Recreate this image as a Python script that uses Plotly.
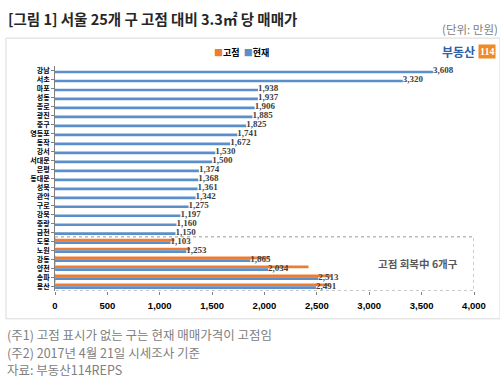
import plotly.graph_objects as go

districts = ["강남", "서초", "마포", "성동", "종로", "광진", "중구", "영등포", "동작", "강서",
             "서대문", "은평", "동대문", "성북", "관악", "구로", "강북", "중랑", "금천",
             "도봉", "노원", "강동", "양천", "송파", "용산"]
current = [3608, 3320, 1938, 1937, 1906, 1885, 1825, 1741, 1672, 1530,
           1500, 1374, 1368, 1361, 1342, 1275, 1197, 1160, 1150,
           1103, 1253, 1865, 2034, 2513, 2491]
peak = [None] * 19 + [1140, 1290, 2050, 2420, 2640, 2620]
x_ticks = [0, 500, 1000, 1500, 2000, 2500, 3000, 3500, 4000]
x_tick_labels = ["0", "500", "1,000", "1,500", "2,000", "2,500", "3,000", "3,500", "4,000"]

# layout is laid out in reference-pixel units (500 x 378)
RW, RH = 500, 378
FIG_W, FIG_H = 515, 380
def px(x):
    return x / RW
def py(y):
    return 1 - y / RH

KR = "Noto Sans CJK KR"
ORANGE = "#ED7D31"
BLUE = "#5B8FCB"

fig = go.Figure()
fig.add_trace(go.Bar(
    y=districts, x=peak, name="고점", orientation="h",
    marker=dict(color=ORANGE, line=dict(width=0)),
    hoverinfo="skip",
))
fig.add_trace(go.Bar(
    y=districts, x=current, name="현재", orientation="h",
    marker=dict(color=BLUE, line=dict(width=0)),
    hoverinfo="skip",
))
# data labels for current values
fig.add_trace(go.Scatter(
    y=districts, x=current, mode="text", showlegend=False,
    text=[f"{v:,}" for v in current], textposition="middle right",
    textfont=dict(family="Liberation Serif", size=9, color="#404040", weight="bold"),
    cliponaxis=False, hoverinfo="skip",
))

fig.update_layout(
    width=FIG_W, height=FIG_H, autosize=False,
    margin=dict(l=0, r=0, t=0, b=0),
    paper_bgcolor="white", plot_bgcolor="white",
    barmode="group", bargap=0.4, bargroupgap=0.0,
    showlegend=False,
    xaxis=dict(domain=[px(52), px(471)], range=[0, 4000],
               tickvals=x_ticks, ticktext=x_tick_labels,
               tickfont=dict(family="Liberation Sans", size=9.5, color="#000000", weight="bold"),
               showgrid=False, zeroline=False, showline=False,
               ticks="outside", ticklen=3, tickcolor="#808080",
               ticklabelstandoff=3),
    yaxis=dict(domain=[py(289), py(65)], range=[24.5, -0.5],
               type="category", categoryorder="array", categoryarray=districts,
               tickmode="array", tickvals=districts, ticktext=districts,
               tickfont=dict(family=KR, size=7, color="#000000", weight="bold"),
               showgrid=False, zeroline=False,
               showline=True, linecolor="#808080", linewidth=1,
               ticks="outside", ticklen=3, tickcolor="#808080"),
)

# chart frame
fig.add_shape(type="rect", xref="paper", yref="paper",
              x0=px(3), x1=px(497), y0=py(317), y1=py(37),
              line=dict(color="#d9d9d9", width=1), fillcolor="rgba(0,0,0,0)", layer="below")
# highlighted group box
fig.add_shape(type="rect", xref="x", yref="y",
              x0=0, x1=4000, y0=18.5, y1=24.5,
              line=dict(color="#9a9a9a", width=1, dash="dot"), fillcolor="rgba(0,0,0,0)")

fig.add_annotation(x=3470, y=21.5, xref="x", yref="y", text="<b>고점 회복中 6개구</b>",
                   showarrow=False, xanchor="center", yanchor="middle",
                   font=dict(family=KR, size=10.5, color="#595959"))

# legend (drawn as text)
fig.add_annotation(x=px(238), y=py(51), xref="paper", yref="paper", xanchor="center", yanchor="middle",
                   text=f"<span style='color:{ORANGE}'>■</span><b>고점</b>  <span style='color:{BLUE}'>■</span><b>현재</b>",
                   showarrow=False, font=dict(family=KR, size=9, color="#000000"))

# title and notes
fig.add_annotation(x=px(3), y=py(17), xref="paper", yref="paper", xanchor="left", yanchor="middle",
                   text="<b>[그림 1] 서울 25개 구 고점 대비 3.3㎡ 당 매매가</b>", showarrow=False,
                   font=dict(family=KR, size=14.5, color="#262626"))
fig.add_annotation(x=px(497), y=py(28), xref="paper", yref="paper", xanchor="right", yanchor="middle",
                   text="(단위: 만원)", showarrow=False,
                   font=dict(family=KR, size=11.5, color="#808080"))
fig.add_annotation(x=px(474), y=py(50), xref="paper", yref="paper", xanchor="right", yanchor="middle",
                   text="<b>부동산</b>", showarrow=False,
                   font=dict(family=KR, size=12, color="#2F5FA7"))
fig.add_annotation(x=px(484), y=py(50), xref="paper", yref="paper", xanchor="center", yanchor="middle",
                   text="<b>114</b>", showarrow=False, bgcolor="#F08A24", borderpad=1,
                   font=dict(family="Liberation Sans Narrow", size=10, color="#ffffff"))

notes = ["(주1) 고점 표시가 없는 구는 현재 매매가격이 고점임",
         "(주2) 2017년 4월 21일 시세조사 기준",
         "자료: 부동산114REPS"]
for i, t in enumerate(notes):
    fig.add_annotation(x=px(2), y=py(333 + 17.5 * i), xref="paper", yref="paper",
                       xanchor="left", yanchor="middle", text=t, showarrow=False,
                       font=dict(family=KR, size=12.5, color="#808080"))

fig.write_html("out.html", config={"displayModeBar": False, "staticPlot": True, "responsive": False},
               post_script="document.documentElement.style.overflow='hidden';document.body.style.margin='0';document.body.style.overflow='hidden';")
